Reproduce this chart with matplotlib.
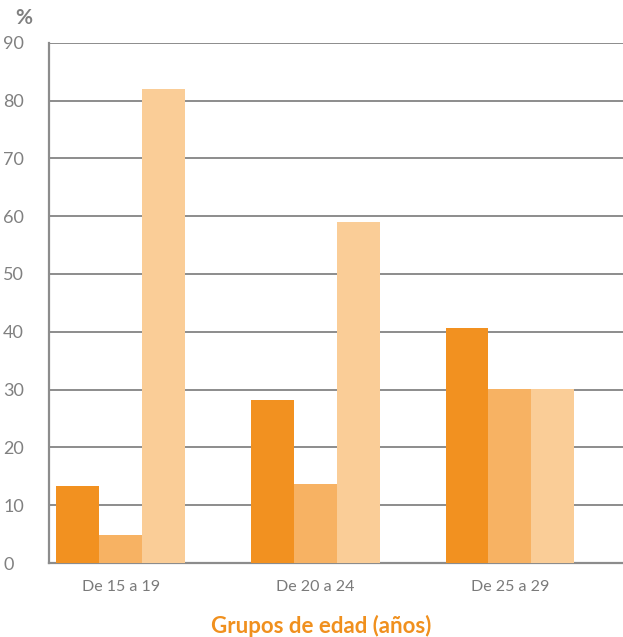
import matplotlib
matplotlib.use("Agg")
import matplotlib.pyplot as plt
import numpy as np

# Data
groups = ["De 15 a 19", "De 20 a 24", "De 25 a 29"]
serie_a = [13.3, 28.2, 40.6]
serie_b = [4.8, 13.7, 30.1]
serie_c = [82.0, 59.0, 30.1]
yticks = [0, 10, 20, 30, 40, 50, 60, 70, 80, 90]

colors = ["#F29120", "#F7B263", "#FACD97"]
gray = "#808080"
orange = "#F0901E"

plt.rcParams["font.family"] = ["Lato", "DejaVu Sans"]

fig = plt.figure(figsize=(6.23, 6.37), dpi=100)
W, H = 623, 637
left, right, top, bottom = 49, 623, 42.7, 563
ax = fig.add_axes([left / W, 1 - bottom / H, (right - left) / W, (bottom - top) / H])

x = np.arange(len(groups))
w = 0.221
for i, (vals, c) in enumerate(zip([serie_a, serie_b, serie_c], colors)):
    ax.bar(x + (i - 1) * w, vals, width=w, color=c, zorder=3, linewidth=0)

ax.set_ylim(0, 90)
ax.set_xlim(-0.370, 2.581)
ax.set_yticks(yticks)
ax.set_yticklabels([str(t) for t in yticks])
ax.yaxis.grid(True, color="#8c8c8c", linewidth=1.4, zorder=1)
ax.set_axisbelow(True)

for s in ["top", "right"]:
    ax.spines[s].set_visible(False)
for s in ["left", "bottom"]:
    ax.spines[s].set_color("#8c8c8c")
    ax.spines[s].set_linewidth(1.6)

ax.tick_params(axis="y", length=0, pad=33, labelsize=13, labelcolor=gray)
for lbl in ax.get_yticklabels():
    lbl.set_horizontalalignment("left")
ax.set_xticks(x)
ax.set_xticklabels(groups)
ax.tick_params(axis="x", length=0, pad=12, labelsize=11.5, labelcolor="#7a7a7a")

fig.text(15 / W, 1 - 18 / H, "%", fontsize=15, fontweight="bold", color=gray,
         ha="left", va="center")
fig.text(321 / W, 1 - 626 / H, "Grupos de edad (años)", fontsize=16,
         fontweight="bold", color=orange, ha="center", va="center")

fig.savefig("out.png", dpi=100)
